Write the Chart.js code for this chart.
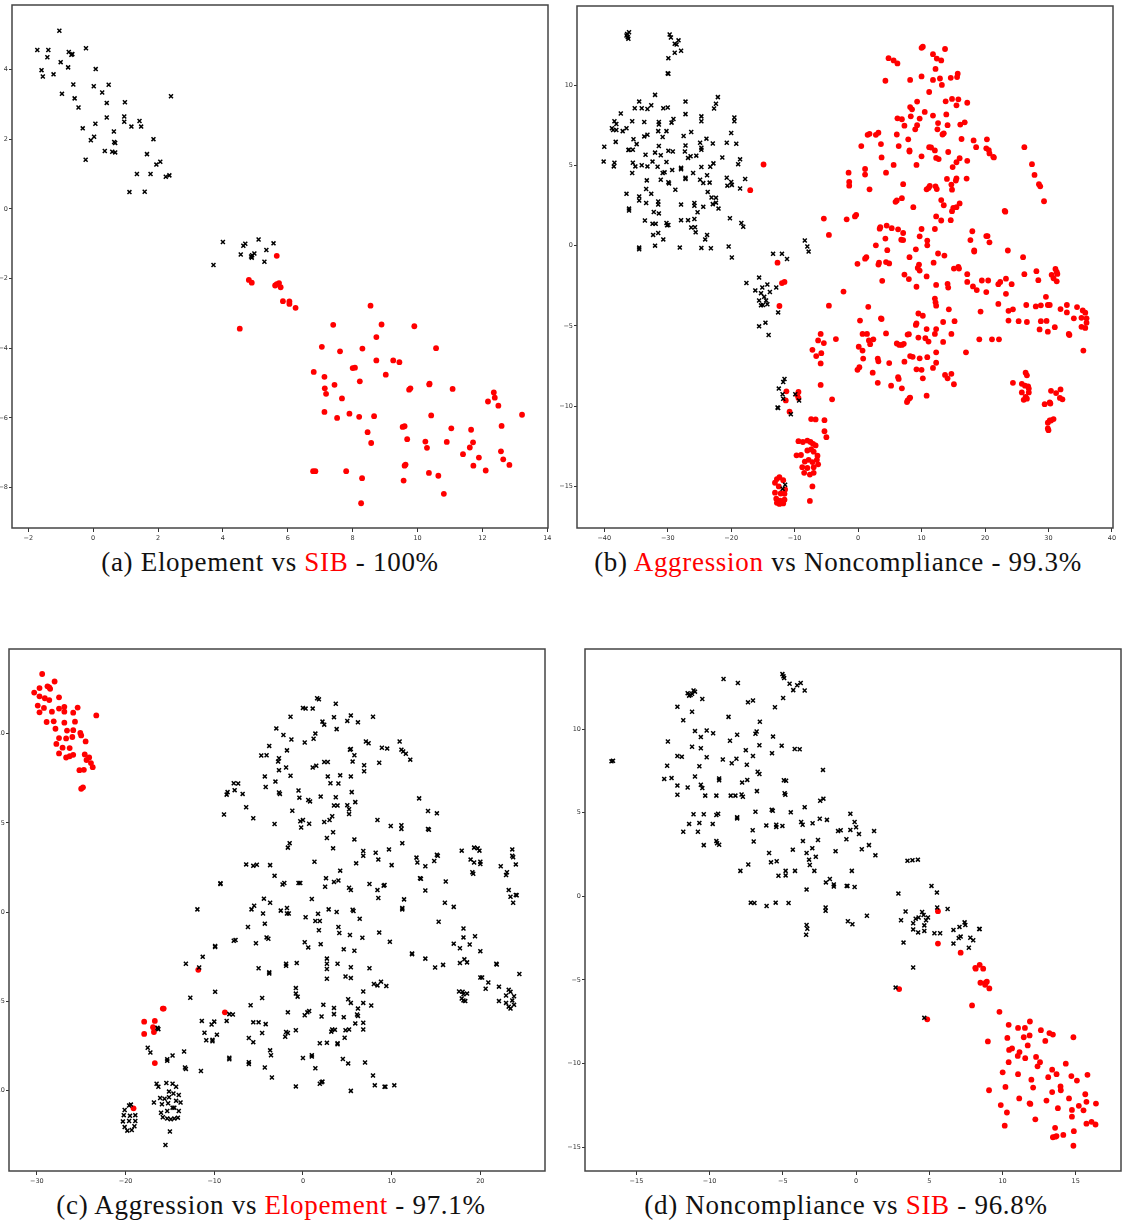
<!DOCTYPE html>
<html>
<head>
<meta charset="utf-8">
<script src="https://cdn.jsdelivr.net/npm/chart.js@4.4.1/dist/chart.umd.min.js"></script>
<style>
  body { margin: 0; background: #fff; width: 1123px; height: 1224px; position: relative; overflow: hidden; }
  .panel { position: absolute; }
  .cap { position: absolute; transform: translateX(-50%); white-space: nowrap;
         font-family: "Liberation Serif", serif; font-size: 27px; letter-spacing: 0.7px; color: #111; line-height: 30px; }
  .red { color: #ff0000; }
</style>
</head>
<body>
<div class="cap" style="left:270px; top:547px;">(a) Elopement vs <span class="red">SIB</span> - 100%</div>
<div class="cap" style="left:838px; top:547px;">(b) <span class="red">Aggression</span> vs Noncompliance - 99.3%</div>
<div class="cap" style="left:271px; top:1190px;">(c) Aggression vs <span class="red">Elopement</span> - 97.1%</div>
<div class="cap" style="left:846px; top:1190px;">(d) Noncompliance vs <span class="red">SIB</span> - 96.8%</div>

<script>
// ---- (a) Elopement vs SIB ----
const aTicksX = [-2, 0, 2, 4, 6, 8, 10, 12, 14];
const aTicksY = [-8, -6, -4, -2, 0, 2, 4];
const aElopement = [
  [-1.04,5.11],[-1.72,4.56],[-1.38,4.56],[-1.41,4.35],[-0.75,4.50],[-0.64,4.44],[-0.67,4.42],[-0.22,4.61],
  [-1.0,4.21],[-0.77,4.06],[0.08,4.01],[-1.59,3.98],[-1.55,3.80],[-1.22,3.86],[-0.61,3.57],[0.02,3.52],
  [0.48,3.56],[-0.96,3.30],[-0.57,3.17],[0.28,3.34],[0.42,3.04],[0.98,3.06],[2.40,3.23],[-0.45,2.91],
  [0.42,2.62],[0.96,2.65],[0.96,2.50],[1.43,2.52],[1.18,2.36],[1.48,2.36],[0.07,2.44],[-0.32,2.31],
  [0.64,2.22],[-0.07,1.97],[0.03,2.07],[0.65,1.92],[0.68,1.89],[1.86,2.0],[0.36,1.66],[0.59,1.64],
  [0.68,1.62],[1.66,1.57],[-0.23,1.41],[2.07,1.35],[1.95,1.27],[1.35,1.0],[1.77,1.0],[2.24,0.92],
  [2.35,0.96],[1.12,0.48],[1.59,0.49],
  [4.0,-0.95],[3.71,-1.61],[4.55,-1.31],[4.63,-1.06],[4.69,-1.0],[4.87,-1.37],[4.90,-1.33],[4.89,-1.40],
  [4.97,-1.28],[5.10,-0.88],[5.34,-1.18],[5.28,-1.52],[5.56,-0.99]
];
const aSIB = [
  [5.66,-1.35],[4.80,-2.04],[4.89,-2.12],[5.61,-2.20],[5.66,-2.16],[5.73,-2.13],[5.78,-2.25],[5.85,-2.65],
  [6.05,-2.66],[6.05,-2.73],[6.24,-2.84],[4.52,-3.44],[8.55,-2.78],[7.40,-3.33],[8.89,-3.32],[9.90,-3.37],
  [8.73,-3.68],[7.05,-3.96],[7.61,-4.09],[8.30,-4.01],[10.57,-4.0],[8.73,-4.35],[9.25,-4.35],[9.44,-4.40],
  [8.0,-4.57],[8.07,-4.56],[6.80,-4.68],[7.13,-4.82],[9.02,-4.76],[8.22,-4.95],[7.44,-5.05],[10.37,-5.02],
  [10.36,-5.04],[7.14,-5.15],[9.74,-5.19],[9.78,-5.15],[11.08,-5.17],[7.18,-5.31],[7.67,-5.44],[12.35,-5.27],
  [12.38,-5.42],[12.17,-5.53],[12.49,-5.65],[7.13,-5.83],[7.52,-6.0],[7.90,-5.88],[8.20,-5.97],[8.66,-5.95],
  [10.42,-5.93],[13.22,-5.91],[9.54,-6.26],[9.60,-6.24],[11.04,-6.30],[11.65,-6.34],[12.59,-6.23],[8.46,-6.41],
  [9.68,-6.61],[8.57,-6.72],[10.24,-6.68],[10.90,-6.69],[11.71,-6.70],[10.29,-6.86],[11.61,-6.85],[11.40,-7.04],
  [11.89,-7.14],[12.57,-6.96],[12.64,-7.19],[12.83,-7.35],[9.63,-7.34],[11.72,-7.37],[9.60,-7.37],[6.78,-7.53],
  [6.85,-7.53],[7.80,-7.53],[12.10,-7.51],[10.35,-7.58],[10.64,-7.66],[8.29,-7.73],[9.57,-7.80],[10.81,-8.18],
  [8.26,-8.45]
];

// ---- (b) Aggression vs Noncompliance ----
const bTicksX = [-40, -30, -20, -10, 0, 10, 20, 30, 40];
const bTicksY = [-15, -10, -5, 0, 5, 10];
const bNoncompliance = [
  [-36.4,13.2],[-36.3,13.0],[-36.2,12.9],[-36.5,13.1],[-36.1,13.3],
  [-29.7,13.16],[-29.5,12.98],[-28.9,12.59],[-28.3,12.8],[-28.6,12.54],[-27.9,12.15],[-28.9,12.03],[-29.9,11.69],
  [-30.0,10.74],[-29.9,10.72],
  [-32.0,9.40],[-34.5,8.98],[-27.2,8.98],[-22.1,9.26],[-22.4,8.85],[-22.7,8.55],[-35.2,8.57],[-34.1,8.57],
  [-33.2,8.52],[-32.6,8.75],[-30.7,8.57],[-30.0,8.61],[-37.4,8.24],[-27.2,8.20],[-24.7,8.06],[-24.7,7.76],
  [-19.5,7.99],[-19.5,7.76],[-38.4,7.76],[-38.1,7.58],[-38.8,7.32],[-38.6,7.21],[-38.1,7.21],[-37.1,7.14],
  [-36.5,7.32],[-35.6,7.76],[-33.7,7.71],[-31.4,7.71],[-31.4,7.55],[-29.4,7.67],[-29.1,7.90],[-31.5,7.14],
  [-30.2,7.14],[-27.5,6.84],[-26.3,7.09],[-30.8,6.77],[-33.7,6.81],[-33.2,6.91],[-38.2,6.47],[-35.4,6.63],
  [-34.9,6.33],[-36.1,5.98],[-36.2,5.96],[-35.5,5.98],[-40.0,6.17],[-23.9,6.67],[-24.9,6.42],[-22.9,6.37],
  [-20.7,6.42],[-19.2,6.35],[-20.0,7.02],[-27.2,6.24],[-31.4,6.21],[-32.0,5.80],[-31.1,5.64],[-29.9,5.91],
  [-29.2,5.87],[-33.5,5.67],[-27.3,5.87],[-26.8,5.47],[-26.4,5.57],[-25.5,5.61],[-24.7,6.10],[-24.7,5.98],
  [-21.4,5.50],[-40.1,5.24],[-38.4,5.17],[-38.5,4.94],[-35.5,5.17],[-35.1,4.94],[-34.1,5.01],[-33.2,4.94],
  [-32.4,5.24],[-31.6,4.92],[-30.2,5.22],[-35.6,4.53],[-30.8,4.53],[-30.5,4.57],[-29.3,4.71],[-27.9,4.85],
  [-27.9,4.76],[-26.0,4.53],[-24.7,4.90],[-23.8,4.39],[-23.3,4.92],[-22.8,5.13],[-27.2,4.23],[-27.2,4.16],
  [-24.9,4.11],[-24.4,3.90],[-23.4,3.93],[-20.7,4.23],[-20.0,3.97],[-19.9,3.79],[-20.6,3.74],[-18.9,5.08],
  [-18.6,5.38],[-17.8,4.16],[-18.6,3.56],[-33.3,4.07],[-31.1,4.11],[-29.9,3.95],[-29.8,3.88],[-28.8,3.49],
  [-33.4,3.53],[-34.5,3.07],[-34.5,2.82],[-36.5,3.23],[-32.6,3.23],[-33.4,2.66],[-31.5,2.75],[-31.5,2.56],
  [-31.4,2.01],[-32.2,2.10],[-36.1,2.31],[-36.1,2.19],[-27.9,2.56],[-25.8,2.66],[-25.8,2.49],[-25.3,2.08],
  [-24.4,2.42],[-23.7,3.35],[-23.1,3.00],[-22.9,2.59],[-22.4,2.68],[-22.4,2.98],[-22.0,2.31],[-33.6,1.57],
  [-32.4,1.36],[-31.9,1.36],[-30.2,1.41],[-30.1,1.27],[-29.9,1.29],[-27.9,1.59],[-26.8,1.59],[-25.8,1.66],
  [-26.3,1.13],[-25.7,1.15],[-25.6,0.83],[-31.5,0.79],[-32.3,0.67],[-30.7,0.39],[-24.1,0.39],[-23.8,0.67],
  [-20.2,1.71],[-18.4,1.41],[-18.1,1.18],[-32.0,0.0],[-34.5,-0.12],[-34.5,-0.23],[-28.1,-0.12],[-24.7,-0.14],
  [-23.2,-0.16],[-20.4,-0.05],[-19.9,-0.74],
  [-8.4,0.32],[-8.0,-0.05],[-7.8,-0.37],[-13.4,-0.51],[-12.0,-0.51],[-11.2,-0.83],[-15.6,-1.99],[-17.6,-2.33],
  [-16.2,-2.79],[-15.3,-2.96],[-15.1,-2.61],[-14.3,-2.42],[-13.9,-2.89],[-12.9,-2.61],[-14.8,-3.19],[-14.5,-3.42],
  [-15.6,-3.42],[-15.0,-3.70],[-14.3,-3.65],[-15.3,-3.72],[-12.6,-4.16],[-15.6,-5.03],[-14.6,-4.80],[-14.1,-5.57],
  [-11.6,-8.31],[-11.8,-8.50],[-12.5,-8.91],[-11.9,-9.26],[-11.8,-9.54],[-12.7,-10.09],[-12.6,-10.12],[-9.9,-9.26],
  [-9.3,-9.65],[-10.6,-10.51],[-11.5,-14.9],[-11.9,-15.15]
];
const bAggression = [
  [-14.9,5.06],[-17.0,3.46],[-12.7,-1.06],[-11.6,-2.26],[-12.0,-2.33],[-12.4,-3.76],[-5.4,1.69],[-4.6,0.67],
  [-4.6,-3.74],[-2.3,-2.86],[-3.5,-5.82],[-5.9,-5.50],[-5.4,-6.07],[-6.3,-5.91],[-7.2,-6.49],[-6.6,-6.88],
  [-5.8,-6.70],[-5.9,-7.34],[-5.9,-8.68],[-4.1,-9.58],[-9.4,-9.12],[-9.4,-9.49],[-9.6,-9.31],[-11.3,-9.08],
  [-11.4,-9.65],[-10.8,-10.35],[-7.4,-10.81],[-6.7,-10.83],[-5.3,-10.88],[-5.3,-11.57],[-5.0,-11.94],
  [-9.4,-12.19],[-8.7,-12.24],[-8.0,-12.15],[-7.5,-12.24],[-7.1,-12.36],[-6.7,-12.45],[-9.7,-13.07],[-9.0,-13.05],
  [-8.0,-12.77],[-7.4,-12.70],[-7.0,-12.84],[-6.4,-13.09],[-6.5,-13.35],[-8.4,-13.46],[-7.8,-13.35],[-7.2,-13.49],
  [-6.3,-13.63],[-7.0,-13.81],[-8.8,-13.81],[-8.0,-13.86],[-8.5,-14.16],[-7.6,-14.27],[-7.0,-14.16],[-7.2,-15.01],
  [-7.6,-15.91],
  [-12.4,-14.43],[-12.8,-14.55],[-11.8,-14.62],[-13.1,-14.78],[-12.5,-15.01],[-11.5,-15.2],[-13.1,-15.4],[-12.2,-15.45],
  [-11.6,-15.47],[-12.9,-15.77],[-12.3,-15.89],[-12.8,-16.03],[-12.4,-16.1],[-11.8,-16.07],[-11.6,-15.84],
  [10.2,12.40],[10.0,12.33],[13.7,12.26],[11.8,11.94],[12.4,11.66],[13.1,11.55],[12.2,11.02],[4.8,11.69],
  [5.6,11.55],[6.2,11.36],[4.3,10.28],[8.2,10.33],[10.0,10.55],[11.8,10.33],[12.9,10.42],[13.2,10.02],
  [14.6,10.46],[15.7,10.72],[15.6,10.51],[11.2,9.58],[9.3,8.98],[13.8,9.0],[14.8,9.15],[15.8,9.12],
  [15.5,8.75],[17.2,8.91],[8.2,8.64],[8.5,8.50],[10.5,8.34],[11.8,8.11],[13.9,8.18],[6.2,7.94],
  [6.9,7.88],[8.3,8.06],[9.7,7.92],[7.3,7.48],[9.0,7.25],[9.3,7.51],[12.6,7.64],[14.1,7.51],
  [16.1,7.55],[16.8,7.69],[12.5,7.25],[1.5,6.91],[1.8,6.97],[2.8,6.91],[3.2,7.04],[6.1,6.93],
  [7.9,6.63],[13.3,6.93],[13.5,7.0],[0.5,6.21],[3.6,6.33],[6.4,6.21],[8.1,5.94],[8.1,5.87],
  [11.2,6.14],[11.5,6.12],[12.1,5.94],[14.2,5.84],[16.3,6.65],[18.2,6.56],[18.6,6.14],[20.3,6.63],
  [20.2,6.07],[20.6,5.96],[20.7,5.75],[21.3,5.54],[21.4,5.50],[26.2,6.14],[3.7,5.50],[10.0,5.57],
  [12.3,5.47],[12.7,5.40],[16.0,5.45],[15.5,5.20],[14.9,4.90],[17.2,5.29],[5.6,5.03],[9.2,5.03],
  [27.4,5.08],[-1.5,4.55],[1.1,4.78],[1.1,4.43],[4.4,4.55],[27.8,4.41],[-1.4,3.97],[-1.4,3.74],
  [1.8,3.51],[7.1,3.83],[11.3,3.72],[10.8,3.51],[11.1,3.60],[12.2,3.70],[12.4,3.53],[14.0,4.16],
  [14.7,3.81],[14.8,3.49],[15.5,4.20],[15.4,4.06],[17.1,4.18],[28.5,3.83],[28.7,3.70],[13.1,2.84],
  [13.5,2.52],[15.0,2.36],[14.8,2.15],[15.5,2.40],[16.0,2.63],[8.7,2.40],[6.1,2.82],[5.9,2.73],
  [6.9,2.96],[23.1,2.17],[23.2,2.12],[29.3,2.77],[-0.3,1.92],[-0.5,1.82],[-1.8,1.64],[12.3,1.82],
  [13.1,1.57],[14.6,1.59],[3.5,1.15],[3.4,1.06],[4.5,1.25],[5.3,1.09],[6.3,1.02],[7.1,0.79],
  [10.0,1.04],[12.1,1.04],[18.0,0.90],[20.2,0.60],[20.4,0.60],[20.7,0.21],[-0.1,-1.13],[1.3,-0.72],
  [1.1,-0.81],[2.8,0.02],[4.3,0.44],[4.6,-0.28],[6.8,0.37],[7.1,0.35],[8.1,-0.72],[9.1,-0.23],
  [9.7,0.58],[10.9,0.32],[10.9,0.02],[12.6,-0.49],[13.6,-0.62],[17.7,0.35],[18.3,-0.30],[18.3,-0.37],
  [23.6,-0.30],[26.0,-0.72],[3.3,-1.06],[3.2,-1.18],[4.4,-1.02],[4.9,-1.11],[9.6,-1.18],[9.4,-1.39],
  [9.7,-1.55],[11.9,-1.06],[10.8,-1.92],[15.8,-1.32],[15.9,-1.43],[15.1,-1.43],[17.2,-1.78],[26.2,-1.78],
  [28.1,-1.59],[28.4,-2.15],[31.1,-1.45],[31.3,-1.64],[30.5,-1.82],[30.8,-2.03],[31.3,-2.22],[31.4,-1.76],
  [3.8,-2.19],[7.3,-1.80],[8.0,-2.08],[9.2,-2.56],[12.3,-2.45],[14.1,-2.38],[14.2,-2.61],[17.2,-2.26],
  [18.1,-2.54],[18.7,-2.77],[19.5,-2.17],[20.5,-2.17],[20.2,-2.89],[22.1,-2.40],[22.4,-2.26],[23.3,-2.06],
  [24.2,-2.40],[23.3,-3.0],[1.6,-3.81],[3.6,-4.53],[3.7,-4.57],[9.5,-4.23],[10.2,-4.37],[12.1,-3.30],
  [12.2,-3.53],[12.3,-3.74],[14.3,-3.97],[19.3,-4.11],[23.7,-4.06],[24.4,-3.97],[22.1,-3.63],[26.5,-3.70],
  [28.0,-3.79],[28.8,-3.72],[29.6,-3.19],[30.2,-3.70],[29.9,-3.70],[31.9,-3.95],[32.9,-3.70],[32.9,-4.16],
  [34.5,-3.83],[35.4,-4.04],[35.8,-4.18],[36.0,-4.53],[35.2,-4.50],[34.0,-4.53],[36.0,-4.80],[35.2,-5.06],
  [35.8,-5.13],[0.3,-4.67],[9.2,-4.85],[9.1,-4.94],[10.8,-5.20],[12.3,-5.20],[13.4,-4.76],[15.2,-4.71],
  [14.7,-5.50],[23.7,-4.67],[25.3,-4.71],[26.6,-4.76],[28.6,-5.22],[28.8,-4.71],[29.7,-4.69],[29.9,-5.36],
  [31.0,-5.08],[33.2,-5.50],[33.3,-5.57],[0.7,-5.50],[1.4,-5.50],[1.7,-5.91],[2.4,-5.84],[4.4,-5.47],
  [6.1,-6.10],[6.5,-6.19],[6.9,-6.19],[7.2,-6.12],[7.8,-5.54],[8.0,-5.52],[9.5,-5.73],[10.6,-5.77],
  [11.1,-5.98],[12.1,-5.50],[13.4,-6.0],[19.1,-5.84],[21.1,-5.84],[22.2,-5.84],[35.5,-6.54],[0.1,-6.30],
  [0.7,-6.54],[1.9,-6.14],[0.8,-7.04],[3.1,-7.04],[3.2,-7.21],[4.9,-7.32],[7.3,-7.23],[8.2,-6.88],
  [8.6,-6.93],[9.7,-7.02],[10.9,-6.95],[12.3,-6.65],[17.0,-6.65],[-0.1,-7.74],[0.2,-7.58],[2.3,-7.92],
  [3.1,-8.55],[5.2,-8.73],[6.3,-8.20],[6.4,-8.31],[6.9,-8.89],[9.2,-7.71],[10.0,-7.74],[10.2,-8.27],
  [11.8,-7.62],[12.3,-7.30],[13.7,-8.06],[14.1,-8.27],[14.7,-7.99],[15.1,-8.64],[10.8,-9.35],[7.8,-9.65],
  [8.1,-9.51],[8.2,-9.47],[7.7,-9.75],
  [24.4,-8.55],[26.4,-7.92],[26.6,-8.08],[25.8,-8.61],[26.3,-8.73],[26.8,-8.78],[26.9,-8.91],[25.8,-9.15],
  [26.4,-9.42],[26.1,-9.61],[26.6,-9.54],[26.9,-9.15],[30.4,-9.05],[31.2,-9.19],[31.9,-8.96],[31.8,-9.49],
  [32.2,-9.58],[30.2,-9.77],[30.3,-9.84],[29.4,-9.88],[30.4,-10.9],[30.8,-10.81],[29.9,-11.04],[29.9,-11.39],
  [30.0,-11.5],[30.2,-10.9]
];

// ---- (c) Aggression vs Elopement ----
const cTicksX = [-30, -20, -10, 0, 10, 20];
const cTicksY = [-10, -5, 0, 5, 10];
const cElopement = [
  [-29.4,13.34],[-28.0,12.92],[-30.3,12.30],[-29.7,12.55],[-28.8,12.65],[-28.6,12.59],[-28.5,12.51],[-29.7,12.09],
  [-29.1,11.98],[-28.6,11.88],[-27.5,12.03],[-29.9,11.57],[-29.2,11.44],[-29.7,11.19],[-27.5,11.40],[-26.9,11.50],
  [-25.4,11.46],[-28.3,11.23],[-26.9,11.23],[-25.9,11.17],[-23.3,11.02],[-28.9,10.65],[-28.1,10.69],[-26.9,10.61],
  [-25.7,10.67],[-27.9,10.27],[-26.6,10.17],[-25.9,10.19],[-25.1,10.04],[-25.0,9.90],[-27.5,9.75],[-26.7,9.73],
  [-26.0,9.81],[-24.5,9.56],[-27.8,9.42],[-27.1,9.21],[-26.3,9.19],[-27.5,8.89],[-26.7,8.66],[-26.3,8.73],
  [-25.9,8.81],[-24.6,8.83],[-24.1,8.66],[-24.4,8.52],[-23.9,8.35],[-23.7,8.12],[-25.2,7.95],[-24.7,7.97],
  [-24.8,6.99],[-25.0,6.91],
  [-11.8,-3.24],[-8.8,-5.62],[-15.7,-5.41],[-15.8,-5.41],[-17.9,-6.14],[-16.7,-6.10],[-16.9,-6.45],[-16.8,-6.72],
  [-17.9,-6.83],[-16.7,-8.46],[-19.1,-11.0]
];
const cAggression = [
  [1.6,11.98],[1.8,11.92],[3.7,11.67],[0.0,11.44],[0.3,11.40],[1.1,11.40],[-1.4,10.94],[3.5,10.92],
  [5.0,10.71],[5.4,11.02],[6.2,10.63],[7.9,10.94],[2.2,10.67],[2.4,10.50],[-3.0,10.29],[3.8,10.25],
  [1.4,10.0],[-2.2,9.92],[-1.3,9.67],[1.2,9.71],[0.2,9.50],[10.9,9.56],[7.1,9.56],[7.4,9.46],
  [8.9,9.21],[9.5,9.16],[11.1,9.10],[11.3,9.0],[11.6,8.87],[12.1,8.54],[5.3,9.10],[5.4,9.14],
  [-3.8,9.31],[-1.8,9.06],[-4.7,8.77],[-4.1,8.79],[-2.7,8.62],[-2.8,8.43],[2.4,8.41],[2.8,8.41],
  [5.8,8.79],[5.6,8.43],[8.6,8.37],[6.9,8.23],[6.9,7.89],[-1.9,8.10],[-2.7,7.95],[1.1,8.10],
  [1.5,8.20],[-4.3,7.60],[-1.4,7.64],[2.8,7.60],[4.2,7.66],[5.4,7.60],[-3.1,7.31],[-4.2,7.01],
  [3.1,7.22],[4.0,7.20],[-7.8,7.22],[-7.3,7.20],[-8.5,6.72],[-8.6,6.58],[-6.8,6.62],[-7.7,6.83],
  [-2.7,6.70],[-2.6,6.62],[-0.5,6.81],[-0.4,6.41],[2.0,6.47],[3.7,6.43],[5.5,6.72],[5.9,6.16],
  [0.6,6.28],[0.8,6.20],[3.5,5.97],[3.9,5.97],[5.0,5.99],[5.2,5.76],[-6.4,5.87],[-1.2,5.68],
  [13.1,6.37],[14.1,5.66],[15.1,5.53],[5.2,5.49],[3.3,5.37],[3.0,5.16],[2.4,5.05],[3.4,4.47],
  [-8.9,5.47],[-5.6,5.26],[-3.2,4.93],[-0.3,5.09],[0.0,5.16],[0.7,4.95],[-0.2,4.74],[8.4,5.16],
  [9.9,4.82],[11.1,4.86],[11.1,4.66],[14.1,4.66],[14.2,4.61],[2.7,4.15],[5.8,4.07],[11.2,3.86],
  [-1.5,3.86],[-1.7,3.61],[3.4,3.57],[9.7,3.51],[6.8,3.42],[6.8,3.15],[8.2,3.32],[8.5,2.94],
  [12.8,3.05],[12.9,2.78],[15.1,3.21],[15.2,3.15],[14.8,2.86],[13.8,2.57],[17.9,3.44],[19.3,3.61],
  [19.7,3.57],[19.9,3.44],[18.9,2.94],[19.3,2.78],[20.0,2.82],[20.0,2.69],[19.2,2.15],[19.1,2.23],
  [23.6,3.51],[23.6,3.15],[23.7,3.07],[24.0,2.67],[22.3,2.57],[23.0,2.23],[22.9,2.07],[23.2,1.23],
  [23.4,0.86],[24.0,0.96],[24.1,0.94],[23.7,0.52],[-6.4,2.67],[-5.6,2.59],[-5.2,2.65],[-3.7,2.63],
  [-3.2,2.03],[1.3,2.82],[2.6,1.90],[6.0,2.73],[10.0,2.63],[4.2,2.32],[13.3,1.86],[13.2,1.90],
  [16.1,1.71],[-9.3,1.57],[-9.3,1.61],[-2.1,1.63],[-2.3,1.54],[-0.5,1.63],[-0.3,1.63],[3.5,1.69],
  [4.0,1.77],[7.5,1.57],[9.1,1.48],[9.2,1.52],[2.5,1.42],[5.2,1.36],[5.4,1.23],[13.8,1.21],
  [8.4,1.23],[8.5,0.79],[1.0,0.73],[-4.4,0.75],[-3.7,0.52],[-5.5,0.35],[-5.8,0.15],[-11.9,0.15],
  [-2.5,0.08],[-1.8,0.23],[-1.8,-0.08],[-1.6,-0.08],[2.9,0.15],[3.8,0.0],[5.6,0.13],[5.7,0.06],
  [11.2,0.23],[11.2,0.15],[11.4,0.71],[16.0,0.52],[17.0,0.29],[-4.5,-0.08],[-4.3,-0.65],[-6.2,-0.84],
  [0.3,-0.29],[1.4,-0.50],[1.9,-0.50],[1.8,-1.02],[1.7,-0.10],[4.0,-0.84],[4.1,-1.17],[6.4,-0.38],
  [5.3,-1.29],[6.7,-1.44],[8.6,-1.15],[15.3,-0.54],[18.1,-0.92],[18.1,-1.42],[19.4,-1.36],[-4.1,-1.42],
  [-3.9,-1.50],[-7.8,-1.61],[-7.6,-1.57],[-5.3,-1.75],[-9.9,-1.90],[-9.9,-1.96],[0.2,-1.69],[0.6,-1.98],
  [2.0,-1.80],[4.6,-2.09],[5.8,-2.17],[9.8,-1.67],[17.0,-1.77],[17.7,-2.03],[18.8,-1.82],[20.0,-2.19],
  [12.3,-2.32],[12.3,-2.36],[13.8,-2.61],[15.8,-2.96],[14.9,-3.11],[17.7,-2.86],[18.2,-2.65],[18.5,-2.82],
  [21.8,-2.90],[21.85,-2.94],[-11.3,-2.51],[-11.7,-3.11],[-13.2,-2.90],[-1.9,-2.90],[-1.9,-3.01],[-0.7,-2.86],
  [2.7,-2.61],[2.7,-2.90],[2.7,-3.19],[2.7,-3.74],[3.9,-2.90],[5.4,-3.09],[7.5,-3.15],[-5.0,-3.15],
  [-3.8,-3.38],[-3.8,-3.44],[4.8,-3.61],[5.4,-3.70],[20.0,-3.67],[20.2,-3.67],[20.9,-3.95],[20.6,-4.30],
  [22.1,-4.18],[24.4,-3.47],[8.0,-4.03],[8.4,-4.11],[8.8,-3.90],[9.4,-4.15],[6.8,-4.45],[-0.8,-4.26],
  [-0.8,-4.57],[-0.6,-4.74],[-12.7,-4.80],[-9.9,-4.47],[-4.6,-4.82],[17.6,-4.45],[18.0,-4.47],[18.1,-4.61],
  [18.5,-4.57],[17.9,-4.84],[18.1,-4.95],[18.3,-4.99],[22.1,-4.99],[22.9,-4.68],[23.2,-4.36],[23.4,-4.47],
  [23.8,-4.72],[22.9,-5.09],[23.2,-5.30],[23.4,-5.41],[23.8,-5.20],[23.6,-4.95],[5.1,-4.89],[5.4,-5.09],
  [2.3,-5.20],[3.5,-5.37],[6.2,-5.41],[6.8,-5.09],[7.7,-5.24],[-5.9,-5.22],[-1.7,-5.62],[0.5,-5.62],
  [0.7,-5.55],[0.2,-5.78],[-8.3,-5.72],[-7.9,-5.74],[6.1,-5.74],[6.2,-5.82],[3.5,-5.72],[2.1,-5.85],
  [4.6,-5.89],[-11.4,-6.10],[-10.0,-6.14],[-10.3,-6.30],[-8.6,-6.10],[-5.6,-6.18],[-5.0,-6.18],[-4.2,-6.28],
  [-11.1,-6.76],[-10.9,-7.18],[-10.2,-7.16],[-10.2,-7.24],[-9.7,-6.87],[-16.4,-6.49],[-16.3,-6.56],[-4.6,-6.78],
  [-6.1,-7.06],[-5.6,-7.29],[-1.9,-6.72],[-1.7,-6.78],[-2.0,-6.99],[-0.8,-6.62],[3.3,-6.58],[3.6,-6.60],
  [3.2,-6.70],[4.8,-6.62],[5.2,-6.58],[4.7,-7.04],[5.9,-6.24],[6.8,-6.20],[6.8,-6.58],[1.9,-7.35],
  [2.7,-7.33],[3.9,-7.35],[3.9,-7.41],[-17.5,-7.60],[-17.2,-7.87],[-14.7,-8.04],[-15.3,-8.25],[-15.3,-8.33],
  [-13.4,-7.81],[-13.3,-8.71],[-13.2,-8.79],[-11.5,-8.91],[-8.3,-8.16],[-8.3,-8.25],[-6.1,-8.41],[-6.1,-8.52],
  [-4.3,-8.71],[-3.7,-7.75],[-3.6,-8.02],[-3.5,-9.27],[0.0,-8.18],[1.0,-8.02],[1.0,-8.10],[1.4,-8.75],
  [4.5,-8.23],[5.1,-8.48],[7.0,-8.43],[7.9,-9.16],[2.1,-9.54],[2.2,-9.50],[1.9,-9.62],[-0.8,-9.77],
  [5.4,-10.02],[8.1,-9.71],[9.2,-9.79],[9.3,-9.79],[10.3,-9.71],
  [-16.5,-9.62],[-16.3,-9.79],[-15.4,-9.58],[-14.7,-9.62],[-14.3,-9.79],[-15.1,-10.06],[-14.6,-10.17],[-14.0,-10.25],
  [-16.1,-10.42],[-15.6,-10.46],[-15.1,-10.38],[-16.8,-10.67],[-15.9,-10.77],[-15.2,-10.71],[-14.3,-10.58],[-13.8,-10.67],
  [-14.7,-10.96],[-14.5,-10.96],[-15.3,-11.15],[-16.0,-11.25],[-14.0,-11.15],[-15.8,-11.50],[-15.3,-11.57],[-14.9,-11.61],
  [-14.5,-11.57],[-14.1,-11.52],[-15.0,-12.30],[-15.5,-13.05],
  [-20.1,-11.09],[-19.6,-10.84],[-19.4,-10.79],[-20.2,-11.38],[-18.9,-11.38],[-19.5,-11.42],[-20.3,-11.73],[-19.6,-11.71],
  [-18.9,-11.71],[-20.1,-12.05],[-19.0,-12.0],[-19.8,-12.25],[-19.3,-12.21]
];

// ---- (d) Noncompliance vs SIB ----
const dTicksX = [-15, -10, -5, 0, 5, 10, 15];
const dTicksY = [-15, -10, -5, 0, 5, 10];
const dNoncompliance = [
  [-16.7,8.07],[-16.6,8.10],
  [-9.05,13.0],[-8.07,12.76],[-5.03,13.29],[-4.96,13.16],[-4.91,13.05],[-4.54,12.71],[-4.02,12.62],[-3.78,12.76],
  [-4.29,12.33],[-3.51,12.31],[-4.98,11.86],[-11.5,12.15],[-11.4,12.0],[-11.3,12.04],[-11.2,12.11],[-11.1,12.31],
  [-11.0,12.24],[-10.5,11.80],[-12.2,11.33],[-11.2,11.04],[-7.38,11.60],[-7.04,11.71],[-5.54,11.31],[-11.8,10.53],
  [-8.71,10.73],[-6.57,10.44],[-11.0,9.88],[-10.2,9.92],[-12.85,9.26],[-10.6,9.52],[-9.76,9.75],[-8.12,9.66],
  [-6.79,9.86],[-6.87,9.72],[-8.61,9.30],[-5.67,9.55],[-11.2,8.94],[-10.6,8.85],[-6.60,9.03],[-5.08,9.01],
  [-4.19,8.81],[-3.85,8.79],[-7.53,8.74],[-5.74,8.56],[-12.2,8.39],[-11.9,8.34],[-10.2,8.32],[-9.1,8.18],
  [-8.17,8.23],[-8.49,7.96],[-7.04,8.39],[-7.46,7.87],[-12.9,7.81],[-10.7,7.78],[-2.26,7.56],[-6.72,7.45],
  [-6.60,7.31],[-13.1,7.02],[-12.6,7.07],[-11.0,7.16],[-9.35,7.05],[-9.35,6.94],[-7.78,6.80],[-7.43,6.96],
  [-4.93,6.94],[-4.78,6.91],[-12.2,6.62],[-10.6,6.67],[-10.5,6.47],[-11.5,6.51],[-6.77,6.29],[-12.2,6.07],
  [-10.3,6.02],[-9.54,6.02],[-8.56,6.02],[-8.24,6.02],[-7.82,6.09],[-7.73,5.95],[-4.88,6.16],[-4.83,6.07],
  [-2.45,5.71],[-2.23,5.84],[-3.51,5.33],[-11.1,4.91],[-10.4,4.91],[-9.54,4.86],[-9.42,4.93],[-8.12,4.73],
  [-8.12,4.66],[-6.87,5.06],[-5.76,5.17],[-5.69,5.11],[-4.46,5.02],[-0.39,4.93],[-11.4,4.33],[-10.7,4.39],
  [-9.79,4.33],[-6.13,4.24],[-5.45,4.28],[-5.45,4.15],[-5.03,4.21],[-3.75,4.44],[-3.65,4.28],[-2.97,4.37],
  [-2.48,4.64],[-1.99,4.57],[-0.10,4.44],[0.0,4.13],[-0.39,3.97],[0.20,3.72],[-1.23,3.90],[-1.05,3.95],
  [1.23,3.90],[-11.8,3.86],[-10.8,3.86],[-7.06,3.95],[-10.4,3.06],[-9.54,3.30],[-9.49,3.17],[-9.35,3.08],
  [-6.99,3.28],[-3.63,3.30],[-2.60,3.37],[-2.99,2.88],[-4.32,2.79],[-3.38,2.59],[-2.75,2.36],[-3.21,2.19],
  [-3.16,1.87],[-0.66,3.41],[0.88,3.06],[0.39,2.81],[1.32,2.45],[-1.40,2.70],[-5.94,2.59],[-5.81,2.03],
  [-5.42,2.10],[-7.36,1.90],[-7.90,1.52],[-5.30,1.23],[-4.81,1.52],[-4.81,1.25],[-4.17,1.52],[-2.85,1.52],
  [-0.29,1.52],[-1.79,1.03],[-2.06,0.83],[-1.52,0.71],[-1.52,0.58],[-0.64,0.62],[-0.59,0.62],[-0.10,0.56],
  [-3.38,0.40],[-6.11,-0.58],[-5.49,-0.38],[-7.19,-0.38],[-6.94,-0.40],[-4.61,-0.40],[-2.08,-0.67],[-2.08,-0.87],
  [-0.56,-1.49],[-0.25,-1.67],[0.74,-1.16],[-3.38,-1.72],[-3.33,-1.94],[-3.41,-2.30],
  [2.89,0.16],[5.15,0.62],[5.52,0.22],[5.54,-0.67],[6.25,-0.76],[3.38,-0.91],[3.07,-1.43],[3.24,-2.77],
  [3.51,2.12],[3.85,2.16],[4.22,2.19],[3.90,-1.61],[3.90,-1.98],[4.07,-1.34],[4.27,-1.27],[4.24,-2.16],
  [4.51,-0.94],[4.61,-1.12],[4.78,-1.43],[4.66,-1.74],[4.66,-2.07],[4.91,-1.27],[5.35,-2.21],[5.74,-2.21],
  [6.65,-2.01],[6.65,-2.83],[7.01,-2.50],[7.06,-1.83],[7.14,-2.41],[7.41,-1.56],[7.46,-1.72],[7.70,-3.08],
  [7.80,-2.48],[8.0,-2.63],[8.41,-1.96],[8.44,-1.96],[3.90,-4.26],[2.70,-5.46],[4.66,-7.27]
];
const dSIB = [
  [5.59,-0.89],[5.59,-2.83],[7.14,-3.37],[8.44,-4.10],[8.17,-4.33],[8.14,-4.28],[8.68,-4.33],[8.49,-5.17],
  [8.85,-5.17],[8.93,-5.11],[8.81,-5.29],[9.10,-5.51],[2.94,-5.55],[7.92,-6.53],[9.79,-6.91],[4.86,-7.36],
  [11.87,-7.49],[10.42,-7.69],[12.62,-8.01],[11.06,-7.87],[11.53,-7.87],[13.2,-8.18],[13.44,-8.27],[11.85,-8.32],
  [11.45,-8.43],[10.33,-8.47],[14.84,-8.43],[12.92,-8.65],[9.0,-8.68],[11.72,-8.92],[10.65,-9.10],[10.45,-9.19],
  [11.16,-9.32],[11.04,-9.55],[11.55,-9.68],[12.29,-9.61],[12.39,-10.17],[12.56,-9.92],[10.42,-9.92],[14.32,-10.01],
  [10.01,-10.53],[11.06,-10.64],[13.39,-10.37],[13.69,-10.64],[13.12,-10.82],[14.7,-10.75],[15.8,-10.68],[15.08,-11.02],
  [11.97,-10.97],[10.2,-11.4],[12.09,-11.44],[13.96,-11.37],[13.98,-11.6],[9.08,-11.6],[13.39,-11.71],[15.65,-11.84],
  [11.14,-12.09],[13.0,-12.22],[14.54,-12.09],[11.85,-12.38],[11.9,-12.42],[15.73,-12.29],[16.38,-12.4],[15.21,-12.53],
  [9.88,-12.49],[13.78,-12.67],[14.74,-12.78],[15.53,-12.8],[10.3,-12.93],[14.74,-13.18],[12.24,-13.34],[15.73,-13.6],
  [16.08,-13.49],[16.35,-13.65],[10.15,-13.72],[13.59,-13.85],[14.87,-14.05],[14.15,-14.27],[13.44,-14.41],[13.61,-14.38],
  [13.69,-14.34],[14.84,-14.92]
];

// frame pixel boxes and axis ranges
const panels = [
  { frame: [12, 5, 536, 523], padL: 12, x: [-2.5, 14.02], y: [-9.16, 5.85], tx: aTicksX, ty: aTicksY, black: aElopement, red: aSIB },
  { frame: [577, 6, 536, 522], padL: 30, x: [-44.3, 40.17], y: [-17.6, 14.94], tx: bTicksX, ty: bTicksY, black: bNoncompliance, red: bAggression },
  { frame: [9, 649, 536, 522], padL: 9, x: [-33.14, 27.29], y: [-14.51, 14.74], tx: cTicksX, ty: cTicksY, black: cAggression, red: cElopement },
  { frame: [585, 649, 536, 522], padL: 30, x: [-18.51, 18.09], y: [-16.43, 14.79], tx: dTicksX, ty: dTicksY, black: dNoncompliance, red: dSIB }
];

const padT = 6, padR = 10, axisH = 20;

function fmt(v) {
  return v < 0 ? '\u2212' + Math.abs(v) : String(v);
}

const framePlugin = {
  id: 'frame',
  afterDraw(chart) {
    const a = chart.chartArea, ctx = chart.ctx;
    ctx.save();
    ctx.strokeStyle = '#444';
    ctx.lineWidth = 1.5;
    ctx.strokeRect(a.left, a.top, a.right - a.left, a.bottom - a.top);
    ctx.restore();
  }
};

function axis(range, ticks, isX) {
  return {
    type: 'linear',
    min: range[0],
    max: range[1],
    afterBuildTicks: s => { s.ticks = ticks.map(v => ({ value: v })); },
    afterFit: s => { s.height = axisH; },
    ticks: {
      callback: v => fmt(v),
      autoSkip: false,
      maxRotation: 0,
      padding: isX ? 2 : 1,
      color: '#333',
      font: { family: 'DejaVu Sans', size: 6.5 }
    },
    grid: { drawOnChartArea: false, drawTicks: true, tickLength: isX ? 4 : 3, color: '#333', lineWidth: 1 },
    border: { display: false }
  };
}

panels.forEach(p => {
  const [l, t, w, h] = p.frame;
  const cw = w + p.padL + padR, ch = h + padT + axisH;
  const div = document.createElement('div');
  div.className = 'panel';
  div.style.left = (l - p.padL) + 'px';
  div.style.top = (t - padT) + 'px';
  const cv = document.createElement('canvas');
  cv.width = cw; cv.height = ch;
  cv.style.width = cw + 'px'; cv.style.height = ch + 'px';
  div.appendChild(cv);
  document.body.appendChild(div);

  const xAxis = axis(p.x, p.tx, true);
  const yAxis = axis(p.y, p.ty, false);
  yAxis.afterFit = s => { s.width = p.padL; };

  new Chart(cv.getContext('2d'), {
    type: 'scatter',
    data: {
      datasets: [
        {
          data: p.black.map(d => ({ x: d[0], y: d[1] })),
          pointStyle: 'crossRot', radius: 2.8, borderWidth: 1.5,
          borderColor: '#000', backgroundColor: '#000', order: 1
        },
        {
          data: p.red.map(d => ({ x: d[0], y: d[1] })),
          pointStyle: 'circle', radius: 2.9, borderWidth: 0,
          backgroundColor: '#ff0000', borderColor: '#ff0000', order: 2
        }
      ]
    },
    options: {
      responsive: false,
      animation: false,
      devicePixelRatio: 1,
      layout: { padding: { top: padT, right: padR, left: 0, bottom: 0 } },
      plugins: { legend: { display: false }, tooltip: { enabled: false } },
      scales: { x: xAxis, y: yAxis }
    },
    plugins: [framePlugin]
  });
});
</script>
</body>
</html>
